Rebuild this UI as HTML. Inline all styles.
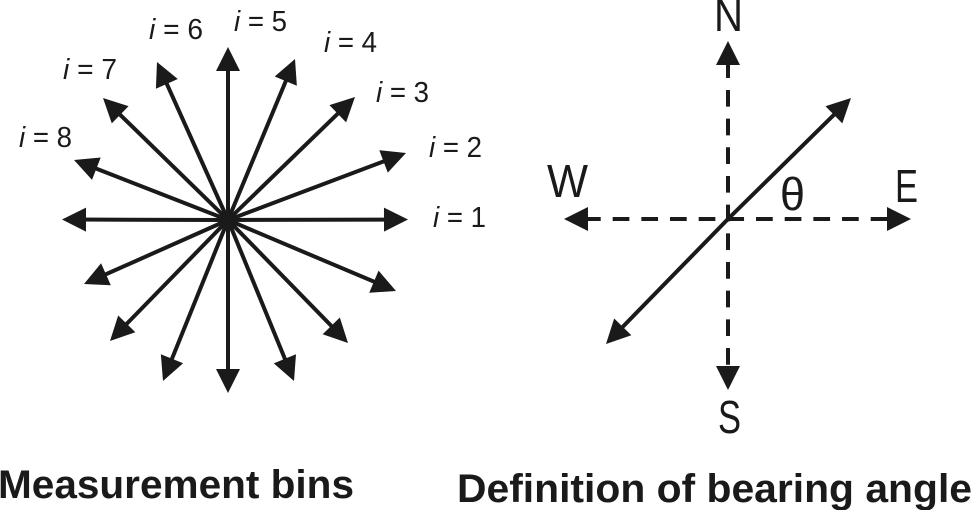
<!DOCTYPE html>
<html>
<head>
<meta charset="utf-8">
<style>
html,body{margin:0;padding:0;background:#fff;}
svg{display:block;}
text{font-family:"Liberation Sans",sans-serif;fill:#1a1a1a;}
.l{font-size:29px;}
.l tspan{font-style:italic;}
.c{font-size:46px;}
.t{font-size:40px;font-weight:bold;}
.a{stroke:#1a1a1a;stroke-width:4;fill:none;stroke-dasharray:92 100;marker-end:url(#h);}
.d{stroke:#1a1a1a;stroke-width:4;fill:none;stroke-dasharray:16.7 11.97;}
</style>
</head>
<body>
<svg width="971" height="510" viewBox="0 0 971 510" xmlns="http://www.w3.org/2000/svg">
<defs>
<marker id="h" markerUnits="userSpaceOnUse" markerWidth="26" markerHeight="26" refX="24" refY="12" orient="auto" overflow="visible">
<polygon points="0,0 24,12 0,24" fill="#1a1a1a"/>
</marker>
</defs>
<rect width="971" height="510" fill="#fff"/>

<g>
<line class="a" pathLength="100" x1="228" y1="220" x2="408" y2="219.5"/>
<line class="a" pathLength="100" x1="228" y1="220" x2="406" y2="153"/>
<line class="a" pathLength="100" x1="228" y1="220" x2="355" y2="97"/>
<line class="a" pathLength="100" x1="228" y1="220" x2="295" y2="59"/>
<line class="a" pathLength="100" x1="228" y1="220" x2="228" y2="47"/>
<line class="a" pathLength="100" x1="228" y1="220" x2="157" y2="62"/>
<line class="a" pathLength="100" x1="228" y1="220" x2="103" y2="98"/>
<line class="a" pathLength="100" x1="228" y1="220" x2="74" y2="160"/>
<line class="a" pathLength="100" x1="228" y1="220" x2="62" y2="219.5"/>
<line class="a" pathLength="100" x1="228" y1="220" x2="84" y2="284"/>
<line class="a" pathLength="100" x1="228" y1="220" x2="110" y2="341"/>
<line class="a" pathLength="100" x1="228" y1="220" x2="163" y2="381"/>
<line class="a" pathLength="100" x1="228" y1="220" x2="228" y2="393"/>
<line class="a" pathLength="100" x1="228" y1="220" x2="294" y2="381"/>
<line class="a" pathLength="100" x1="228" y1="220" x2="348" y2="343"/>
<line class="a" pathLength="100" x1="228" y1="220" x2="396" y2="291"/>
</g>

<text class="l" x="234" y="31" textLength="53" lengthAdjust="spacingAndGlyphs"><tspan>i</tspan> = 5</text>
<text class="l" x="149" y="39" textLength="54" lengthAdjust="spacingAndGlyphs"><tspan>i</tspan> = 6</text>
<text class="l" x="324" y="52" textLength="53" lengthAdjust="spacingAndGlyphs"><tspan>i</tspan> = 4</text>
<text class="l" x="63" y="79" textLength="54" lengthAdjust="spacingAndGlyphs"><tspan>i</tspan> = 7</text>
<text class="l" x="376" y="102" textLength="53" lengthAdjust="spacingAndGlyphs"><tspan>i</tspan> = 3</text>
<text class="l" x="19" y="147" textLength="53" lengthAdjust="spacingAndGlyphs"><tspan>i</tspan> = 8</text>
<text class="l" x="429" y="157" textLength="53" lengthAdjust="spacingAndGlyphs"><tspan>i</tspan> = 2</text>
<text class="l" x="433" y="227" textLength="53" lengthAdjust="spacingAndGlyphs"><tspan>i</tspan> = 1</text>

<line class="d" x1="584" y1="219" x2="888" y2="219"/>
<line class="d" x1="728" y1="61.3" x2="728" y2="366"/>
<polygon points="564,219 588,207 588,231" fill="#1a1a1a"/>
<polygon points="911,219 887,207 887,231" fill="#1a1a1a"/>
<polygon points="728,41 716,65 740,65" fill="#1a1a1a"/>
<polygon points="728,390 716,366 740,366" fill="#1a1a1a"/>
<line class="a" pathLength="100" x1="728" y1="219" x2="851" y2="98"/>
<line class="a" pathLength="100" x1="728" y1="219" x2="606" y2="344"/>

<text class="c" x="714" y="31" textLength="29" lengthAdjust="spacingAndGlyphs">N</text>
<text class="c" x="547" y="197" textLength="41" lengthAdjust="spacingAndGlyphs">W</text>
<text class="c" x="895" y="202" textLength="23" lengthAdjust="spacingAndGlyphs">E</text>
<text class="c" x="780" y="210" textLength="25" lengthAdjust="spacingAndGlyphs">θ</text>
<text class="c" x="718" y="433" textLength="23" lengthAdjust="spacingAndGlyphs">S</text>

<text class="t" x="-2" y="498" textLength="356" lengthAdjust="spacingAndGlyphs">Measurement bins</text>
<text class="t" x="457" y="502" textLength="515" lengthAdjust="spacingAndGlyphs">Definition of bearing angle</text>
</svg>
</body>
</html>
